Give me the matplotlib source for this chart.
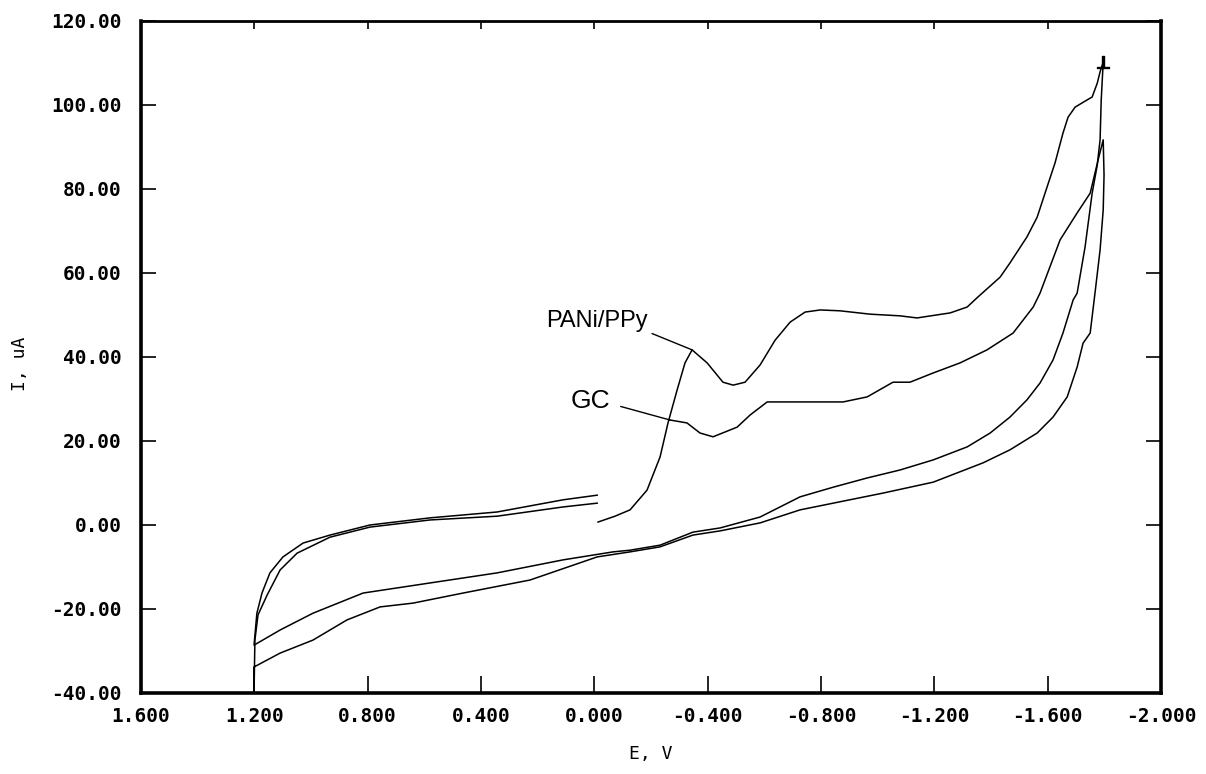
import matplotlib
matplotlib.use("Agg")
import matplotlib.pyplot as plt
from matplotlib.ticker import FormatStrFormatter

# PANi/PPy cyclic voltammogram (E in V, I in uA)
e_pani = [-0.013, -0.073, -0.126, -0.186, -0.232, -0.260, -0.292, -0.320, -0.345, -0.398,
          -0.454, -0.490, -0.532, -0.585, -0.638, -0.691, -0.744, -0.797, -0.867, -0.973,
          -1.079, -1.139, -1.256, -1.316, -1.354, -1.432, -1.467, -1.527, -1.563, -1.598,
          -1.626, -1.654, -1.672, -1.697, -1.739, -1.757, -1.775, -1.785, -1.796,
          -1.789, -1.785, -1.775, -1.757, -1.732, -1.704, -1.690, -1.654, -1.619, -1.573,
          -1.527, -1.467, -1.397, -1.316, -1.196, -1.079, -0.963, -0.843, -0.726, -0.585,
          -0.444, -0.348, -0.232, -0.126, -0.066, 0.110, 0.343, 0.580, 0.816, 0.993,
          1.109, 1.201,
          1.191, 1.173, 1.145, 1.099, 1.028, 0.933, 0.792, 0.580, 0.343, 0.110, -0.010]
i_pani = [0.7, 2.1, 3.6, 8.3, 16.2, 24.3, 32.1, 38.6, 41.7, 38.6,
          34.0, 33.3, 34.0, 38.1, 44.0, 48.3, 50.7, 51.2, 51.0, 50.2,
          49.8, 49.3, 50.5, 51.9, 54.3, 59.0, 62.4, 68.6, 73.3, 80.5,
          86.2, 93.3, 97.1, 99.5, 101.2, 101.9, 105.2, 107.9, 110.2,
          101.2, 91.7, 85.7, 79.0, 66.2, 55.2, 53.6, 45.7, 39.3, 33.8,
          29.8, 25.7, 21.9, 18.6, 15.5, 13.1, 11.2, 9.0, 6.7, 1.9,
          -0.7, -1.7, -4.8, -6.0, -6.4, -8.3, -11.4, -13.8, -16.2, -21.0,
          -25.0, -28.6,
          -21.0, -16.2, -11.4, -7.6, -4.3, -2.4, 0.0, 1.7, 3.1, 6.0, 7.1]

# bare GC electrode
e_gc = [-0.267, -0.327, -0.373, -0.419, -0.504, -0.550, -0.610, -0.726, -0.878, -0.963,
        -1.054, -1.114, -1.196, -1.291, -1.386, -1.478, -1.549, -1.573, -1.644, -1.704,
        -1.750, -1.778, -1.796,
        -1.799, -1.796, -1.785, -1.767, -1.750, -1.725, -1.704, -1.669, -1.619, -1.563,
        -1.467, -1.372, -1.196, -1.019, -0.843, -0.726, -0.585, -0.444, -0.348, -0.232,
        -0.126, -0.010, 0.227, 0.463, 0.640, 0.756, 0.873, 0.993, 1.109, 1.201, 1.201,
        1.198, 1.187, 1.155, 1.109, 1.049, 0.933, 0.792, 0.580, 0.343, 0.110, -0.010]
i_gc = [25.0, 24.3, 21.9, 21.0, 23.3, 26.2, 29.3, 29.3, 29.3, 30.5,
        34.0, 34.0, 36.2, 38.6, 41.7, 45.7, 51.9, 55.2, 67.9, 74.3,
        79.0, 86.9, 91.7,
        83.3, 75.0, 65.5, 55.2, 45.7, 43.3, 37.6, 30.5, 25.7, 21.9,
        17.9, 14.8, 10.2, 7.6, 5.2, 3.6, 0.5, -1.4, -2.4, -5.2,
        -6.4, -7.6, -13.1, -16.2, -18.6, -19.5, -22.6, -27.4, -30.5, -33.8, -40.0,
        -27.4, -21.4, -16.7, -10.7, -6.7, -2.9, -0.5, 1.2, 2.1, 4.3, 5.2]

x_ticks = [1.6, 1.2, 0.8, 0.4, 0.0, -0.4, -0.8, -1.2, -1.6, -2.0]
y_ticks = [-40, -20, 0, 20, 40, 60, 80, 100, 120]

fig = plt.figure(figsize=(12.06, 7.74), dpi=100)
ax = fig.add_axes([141 / 1206, 1 - 693 / 774, 1020 / 1206, 672 / 774])

ax.plot(e_pani, i_pani, color="black", lw=1.1)
ax.plot(e_gc, i_gc, color="black", lw=1.1)
# small vertex mark at the end of the PANi/PPy forward sweep
ax.plot(e_pani[38], i_pani[38], marker=r"$\perp$", color="black", ms=9)

ax.set_xlim(1.6, -2.0)
ax.set_ylim(-40, 120)
ax.set_xticks(x_ticks)
ax.set_yticks(y_ticks)
ax.xaxis.set_major_formatter(FormatStrFormatter("%.3f"))
ax.yaxis.set_major_formatter(FormatStrFormatter("%.2f"))

mono = "DejaVu Sans Mono"
ax.tick_params(axis="both", direction="in", width=1.2, labelsize=14)
ax.tick_params(axis="x", length=12, pad=10, top=True)
ax.tick_params(axis="y", length=11, pad=14, right=True)
for lab in ax.get_xticklabels() + ax.get_yticklabels():
    lab.set_family(mono)
    lab.set_fontweight("bold")
for t in ax.xaxis.get_major_ticks():
    t.tick2line.set_markersize(6)
for s in ax.spines.values():
    s.set_linewidth(2.6)
ax.spines["top"].set_linewidth(2.0)

ax.set_xlabel("E, V", family=mono, fontsize=13)
ax.set_ylabel("I, uA", family=mono, fontsize=13)
ax.xaxis.set_label_coords(0.5, -0.077)
ax.yaxis.set_label_coords(-0.11, 0.49)

ax.annotate("PANi/PPy", xy=(e_pani[8], i_pani[8]), xytext=(-0.010, 48.6),
            ha="center", va="center", fontsize=17, family="Liberation Sans",
            arrowprops=dict(arrowstyle="-", color="black", lw=1.0,
                            relpos=(1.0, 0.0), shrinkA=1, shrinkB=0))
ax.annotate("GC", xy=(e_gc[0], i_gc[0]), xytext=(0.015, 29.5),
            ha="center", va="center", fontsize=19, family="Liberation Sans",
            arrowprops=dict(arrowstyle="-", color="black", lw=1.0,
                            relpos=(1.0, 0.4), shrinkA=6, shrinkB=0))

fig.savefig("out.png", dpi=100)
